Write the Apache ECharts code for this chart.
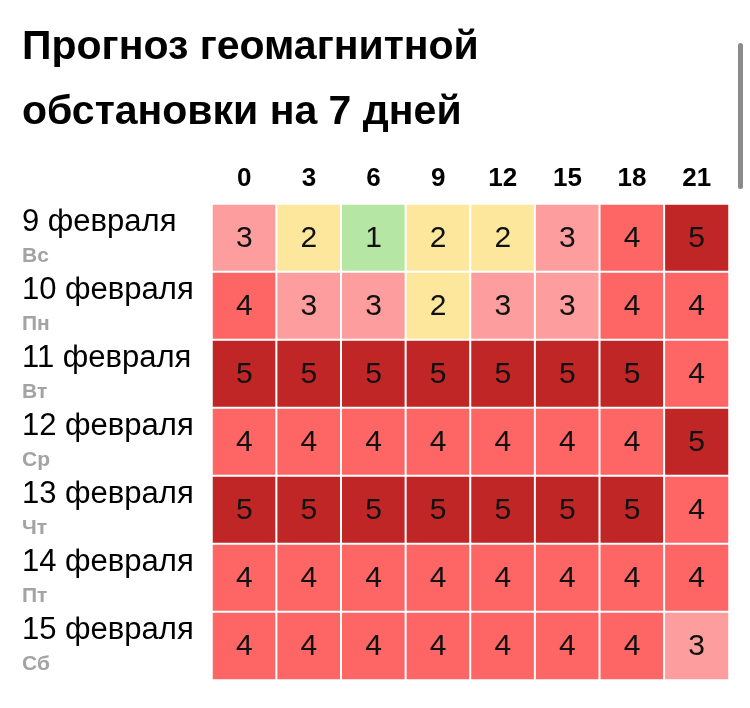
<!DOCTYPE html>
<html><head><meta charset="utf-8">
<script src="https://cdn.jsdelivr.net/npm/echarts@6/dist/echarts.min.js"></script>
<style>html,body{margin:0;padding:0;background:#fff}#c{width:750px;height:708px}</style>
</head><body><div id="c"></div>
<script>
const titleText = 'Прогноз геомагнитной\nобстановки на 7 дней';
const hours = ['0','3','6','9','12','15','18','21'];
const dates = ['9 февраля','10 февраля','11 февраля','12 февраля','13 февраля','14 февраля','15 февраля'];
const weekdays = ['Вс','Пн','Вт','Ср','Чт','Пт','Сб'];
const kp = [
  [3,2,1,2,2,3,4,5],
  [4,3,3,2,3,3,4,4],
  [5,5,5,5,5,5,5,4],
  [4,4,4,4,4,4,4,5],
  [5,5,5,5,5,5,5,4],
  [4,4,4,4,4,4,4,4],
  [4,4,4,4,4,4,4,3]
];
const levels = [1,2,3,4,5];
const levelColors = ['#b6e6a3','#fce79d','#fe9d9d','#fe6565','#c02626'];

const data = [];
kp.forEach((row, r) => row.forEach((v, c) => data.push([c, r, v])));
const font = '"Liberation Sans", Arial, sans-serif';

const chart = echarts.init(document.getElementById('c'));
chart.setOption({
  backgroundColor: '#fff',
  animation: false,
  title: {
    text: titleText, left: 17, top: 10, padding: 5,
    textStyle: {fontFamily: font, fontSize: 41, fontWeight: 'bold', color: '#000', lineHeight: 65}
  },
  grid: {left: 212, right: 21, top: 204, bottom: 28},
  xAxis: {
    type: 'category', data: hours, position: 'top',
    axisLine: {show: false}, axisTick: {show: false}, splitLine: {show: false},
    axisLabel: {fontFamily: font, fontSize: 26, fontWeight: 'bold', color: '#000', margin: 12}
  },
  yAxis: {
    type: 'category', data: dates, inverse: true,
    axisLine: {show: false}, axisTick: {show: false}, splitLine: {show: false},
    axisLabel: {
      align: 'left', margin: 190,
      formatter: (v, i) => '{d|' + v + '}\n{w|' + weekdays[i] + '}',
      rich: {
        d: {fontFamily: font, fontSize: 31, color: '#000', lineHeight: 36, padding: [4, 0, 0, 0]},
        w: {fontFamily: font, fontSize: 21, fontWeight: 'bold', color: '#a3a3a3', lineHeight: 36}
      }
    }
  },
  visualMap: {
    show: false, type: 'piecewise', dimension: 2,
    pieces: levels.map((l, i) => ({value: l, color: levelColors[i]}))
  },
  series: [{
    type: 'heatmap', data: data,
    itemStyle: {borderColor: '#fff', borderWidth: 2},
    label: {show: true, fontFamily: font, fontSize: 30, color: '#111', formatter: p => p.value[2], offset: [0, 1]},
    emphasis: {disabled: true}
  }],
  graphic: [{
    type: 'rect', shape: {x: 738, y: 43, width: 5, height: 146, r: 2.5},
    style: {fill: '#8a8a8a'}, silent: true
  }]
});
</script></body></html>
